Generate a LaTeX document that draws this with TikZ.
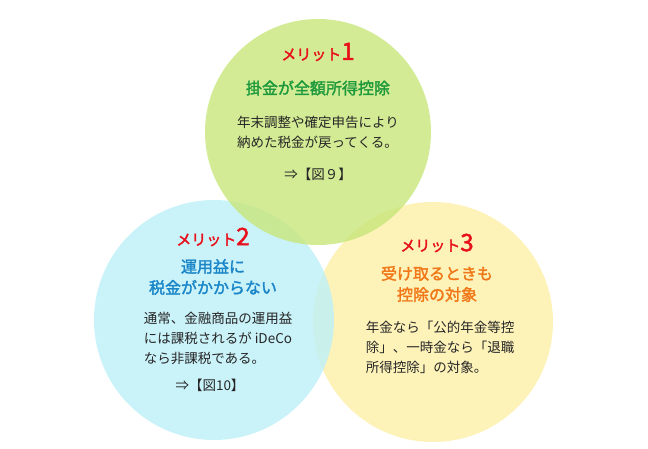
\documentclass[tikz,border=0pt]{standalone}
\usepackage{fontspec}
\setmainfont{Noto Sans CJK JP}
\newfontfamily\jpbold{Noto Sans CJK JP}[FakeBold=2]
\definecolor{cg}{HTML}{C8E67A}
\definecolor{cb}{HTML}{BDEFF8}
\definecolor{cy}{HTML}{FDF0A8}
\definecolor{tg}{HTML}{1E9A3C}
\definecolor{tb}{HTML}{1A86C8}
\definecolor{to}{HTML}{F07818}
\definecolor{tr}{HTML}{E8101A}
\begin{document}
\begin{tikzpicture}[x=1pt,y=-1pt,
  circ/.style={fill opacity=0.8,draw=none},
  merit/.style={text=tr,font=\jpbold\fontsize{15}{17}\selectfont},
  head/.style={font=\jpbold\fontsize{16}{21}\selectfont,align=center},
  body/.style={font=\fontsize{13.5}{20}\selectfont,align=left,text=black!85}]
\useasboundingbox (0,0) rectangle (648,449);
\fill[cy,circ] (433,322) circle (120);
\fill[cb,circ] (214,320) circle (120);
\fill[cg,circ] (318,132) circle (113);
\node[merit] (m1) at (318,52) {メリット{\fontsize{24}{24}\selectfont 1}};
\node[head,text=tg] (h1) at (318,88) {掛金が全額所得控除};
\node[body] (b1) at (318,132) {年末調整や確定申告により\\納めた税金が戻ってくる。};
\node[body] (r1) at (318,174) {⇒【図９】};
\node[merit] (m2) at (213,237) {メリット{\fontsize{24}{24}\selectfont 2}};
\node[head,text=tb] (h2) at (213,277) {運用益に\\税金がかからない};
\node[body] (b2) at (218,338) {通常、金融商品の運用益\\には課税されるが iDeCo\\なら非課税である。};
\node[body] (r2) at (210,385) {⇒【図10】};
\node[merit] (m3) at (437,243) {メリット{\fontsize{24}{24}\selectfont 3}};
\node[head,text=to] (h3) at (437,284) {受け取るときも\\控除の対象};
\node[body] (b3) at (440,347) {年金なら「公的年金等控\\除」、一時金なら「退職\\所得控除」の対象。};
\end{tikzpicture}
\end{document}
